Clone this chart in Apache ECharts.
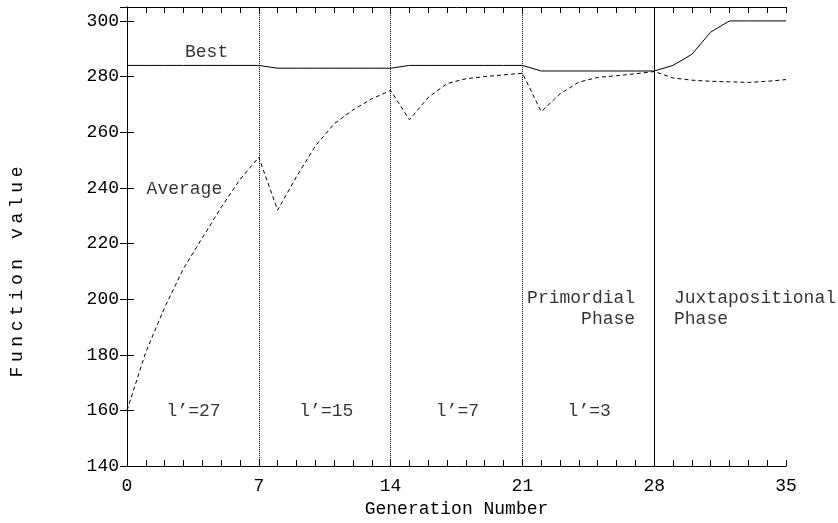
<!DOCTYPE html>
<html lang="en">
<head>
    <meta charset="UTF-8">
    <title>Function value vs generation</title>
    <style>
        html, body { margin: 0; padding: 0; background: #fff; }
        #main { width: 838px; height: 523px; }
    </style>
    <script src="https://cdn.jsdelivr.net/npm/echarts@6/dist/echarts.min.js"></script>
</head>
<body>
<div id="main"></div>
<script type="text/javascript">
    // data
    var generations = [0,1,2,3,4,5,6,7,8,9,10,11,12,13,14,15,16,17,18,19,20,21,22,23,24,25,26,27,28,29,30,31,32,33,34,35];
    var best = [284,284,284,284,284,284,284,284, 283,283,283,283,283,283,283,
                284,284,284,284,284,284,284, 282,282,282,282,282,282,282,
                284,288,296,300,300,300,300];
    var average = [160,181,197,211,222,233,243,251, 232,244,255,263,268,272,275,
                   264.5,272.5,277.5,279.2,280,280.6,281.2, 267.4,273.8,278,279.7,280.3,281,281.8,
                   279.5,278.7,278.3,278.1,277.9,278.3,278.9];
    var xLabelStep = 7;
    var phaseLines = [7, 14, 21];   // dotted
    var phaseSwitch = 28;           // solid

    var noteText = ['Best', 'Average', 'l\u2019=27', 'l\u2019=15', 'l\u2019=7', 'l\u2019=3',
                    'Primordial\n     Phase', 'Juxtapositional\nPhase'];
    var noteX = [3.08, 1.04, 2.1, 9.15, 16.4, 23.4, 21.25, 29.05];
    var noteY = [288.9, 239.4, 159.7, 159.7, 159.7, 159.7, 196.7, 196.7];

    var FONT = 'Liberation Mono';

    function pairs(xs, ys) {
        var out = [];
        for (var i = 0; i < ys.length; i++) out.push([xs[i], ys[i]]);
        return out;
    }

    var notes = [];
    for (var i = 0; i < noteText.length; i++) {
        notes.push({ value: [noteX[i], noteY[i]], name: noteText[i] });
    }

    var lineMarks = phaseLines.map(function (v) {
        return { xAxis: v, lineStyle: { type: 'dotted', color: '#000', width: 1 } };
    });
    lineMarks.push({ xAxis: phaseSwitch, lineStyle: { type: 'solid', color: '#000', width: 1 } });

    var myChart = echarts.init(document.getElementById('main'));
    var axisLine = { show: true, lineStyle: { color: '#000', width: 1 } };

    var option = {
        animation: false,
        backgroundColor: '#fff',
        textStyle: { fontFamily: FONT, color: '#000' },
        grid: { left: 127, right: 52, top: 7, bottom: 50 },
        xAxis: [{
            type: 'value', min: 0, max: 35, interval: 1, position: 'bottom',
            name: 'Generation Number', nameLocation: 'middle', nameGap: 28,
            nameTextStyle: { fontFamily: FONT, fontSize: 18, color: '#000' },
            axisLine: axisLine,
            axisTick: { inside: true, length: 6, lineStyle: { color: '#000' } },
            axisLabel: {
                margin: 11, fontFamily: FONT, fontSize: 18, color: '#000',
                formatter: function (v) { return v % xLabelStep === 0 ? String(v) : ''; }
            },
            splitLine: { show: false }
        }, {
            type: 'value', min: 0, max: 35, interval: 1, position: 'top',
            axisLine: axisLine,
            axisTick: { inside: true, length: 6, lineStyle: { color: '#000' } },
            axisLabel: { show: false },
            splitLine: { show: false }
        }],
        yAxis: [{
            type: 'value', min: 140, max: 305, interval: 20, position: 'left',
            axisLine: axisLine,
            axisTick: { inside: true, length: 7, lineStyle: { color: '#000' } },
            axisLabel: { margin: 8, fontFamily: FONT, fontSize: 18, color: '#000', showMaxLabel: false },
            splitLine: { show: false }
        }, {
            type: 'value', min: 140, max: 305, interval: 20, position: 'right',
            axisLine: axisLine,
            axisTick: { inside: true, length: 7, lineStyle: { color: '#000' } },
            axisLabel: { show: false },
            splitLine: { show: false }
        }],
        graphic: [{
            type: 'text', x: 17, y: 272, rotation: Math.PI / 2,
            style: {
                text: 'Function value'.split('').map(function (c) { return '{s|' + c + '}'; }).join(''),
                font: '18px "' + FONT + '"', fill: '#000',
                align: 'center', verticalAlign: 'middle',
                rich: { s: { fontFamily: FONT, fontSize: 18, padding: [0, 2.3, 0, 2.3] } }
            }
        }],
        series: [{
            name: 'Best', type: 'line', data: pairs(generations, best),
            showSymbol: false, symbol: 'none',
            lineStyle: { color: '#000', width: 1, type: 'solid' },
            markLine: {
                silent: true, symbol: 'none', label: { show: false },
                data: lineMarks
            }
        }, {
            name: 'Average', type: 'line', data: pairs(generations, average),
            showSymbol: false, symbol: 'none',
            lineStyle: { color: '#000', width: 1, type: [4, 3] }
        }, {
            name: 'notes', type: 'scatter', data: notes, symbolSize: 0,
            silent: true,
            label: {
                show: true, position: 'right', distance: 0,
                formatter: function (p) { return p.name; },
                fontFamily: FONT, fontSize: 18, color: '#000', lineHeight: 21
            }
        }]
    };
    myChart.setOption(option);
</script>
</body>
</html>
